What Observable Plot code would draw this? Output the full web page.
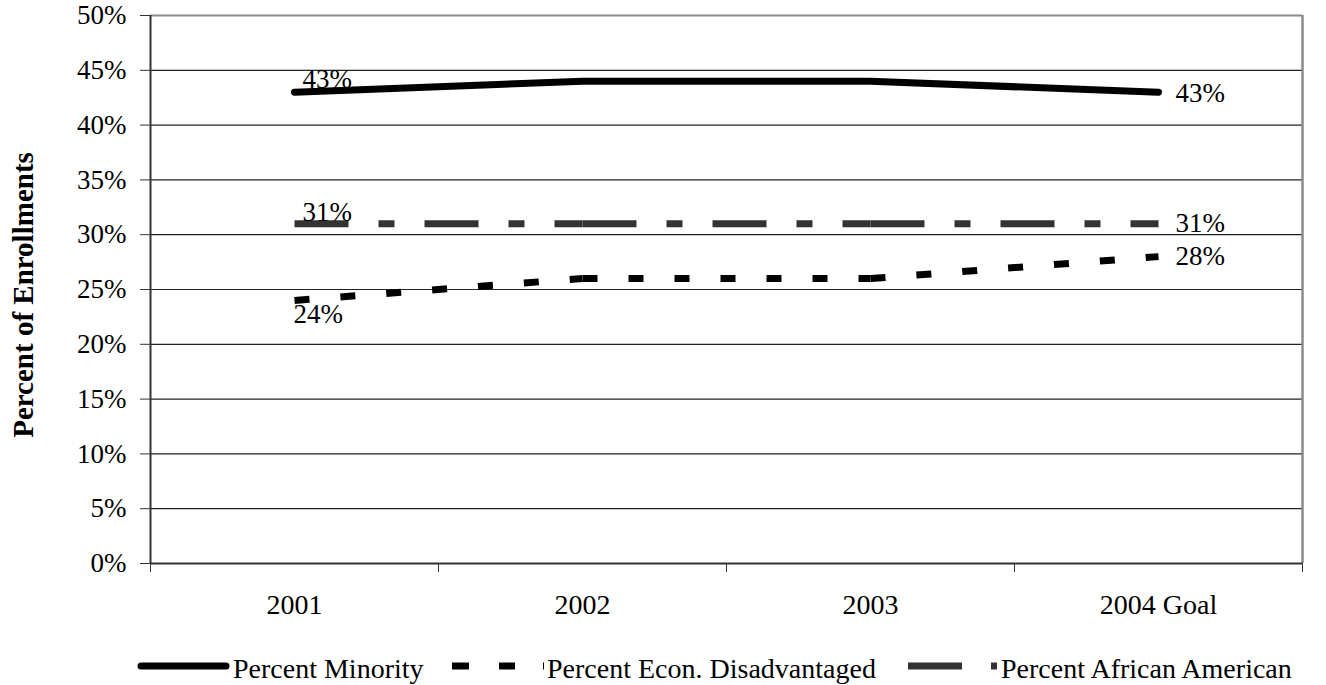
<!DOCTYPE html>
<html>
<head>
<meta charset="utf-8">
<script src="https://cdn.jsdelivr.net/npm/d3@7"></script>
<script src="https://cdn.jsdelivr.net/npm/@observablehq/plot@0.6"></script>
<style>
  html, body { margin: 0; padding: 0; background: #fff; }
  body { width: 1326px; height: 685px; position: relative; overflow: hidden; font-family: "Liberation Serif", "Times New Roman", serif; }
  #chart { position: absolute; left: 0; top: 0; }
  svg, svg text { font-family: "Liberation Serif", "Times New Roman", serif !important; }
  #ytitle { position: absolute; left: 23px; top: 295px; transform: translate(-50%, -50%) rotate(-90deg); font-weight: bold; font-size: 29px; white-space: nowrap; color: #000; }
  #legend { position: absolute; left: 0; top: 648px; width: 1326px; height: 37px; }
</style>
</head>
<body>
<div id="chart"></div>
<div id="ytitle">Percent of Enrollments</div>
<svg id="legend" width="1326" height="37"></svg>
<script>
const categories = ["2001", "2002", "2003", "2004 Goal"];
const minority = [43, 44, 44, 43];
const econ = [24, 26, 26, 28];
const african = [31, 31, 31, 31];
const yTicks = [0, 5, 10, 15, 20, 25, 30, 35, 40, 45, 50];
const seriesNames = ["Percent Minority", "Percent Econ. Disadvantaged", "Percent African American"];

const pts = (arr) => arr.map((v, i) => ({i, v: v / 100, label: v + "%"}));
const segs = (arr) => arr.slice(0, -1).map((v, i) => ({x1: i, x2: i + 1, y1: v / 100, y2: arr[i + 1] / 100}));

const minPts = pts(minority), econPts = pts(econ), afrPts = pts(african);
const last = categories.length - 1;

const chart = Plot.plot({
  width: 1326,
  height: 640,
  marginLeft: 150,
  marginRight: 24,
  marginTop: 15,
  marginBottom: 77,
  style: {fontFamily: "'Liberation Serif', serif", fontSize: "27px", color: "#000", background: "transparent"},
  x: {type: "linear", domain: [-0.5, categories.length - 0.5]},
  y: {type: "linear", domain: [0, 0.5]},
  marks: [
    Plot.gridY(yTicks.slice(1, -1).map(d => d / 100), {stroke: "#222", strokeOpacity: 1, strokeWidth: 1.2}),
    Plot.ruleY([0.5], {stroke: "#8a8a8a", strokeWidth: 2}),
    Plot.ruleX([categories.length - 0.5], {stroke: "#8a8a8a", strokeWidth: 2.5}),
    Plot.ruleX([-0.5], {stroke: "#333", strokeWidth: 2}),
    Plot.ruleY([0], {stroke: "#333", strokeWidth: 2}),
    Plot.axisY({ticks: yTicks.map(d => d / 100), tickFormat: d => Math.round(d * 100) + "%", tickSize: 10, tickPadding: 14, label: null, fontSize: 27, stroke: "#333"}),
    Plot.axisX({ticks: d3.range(categories.length + 1).map(d => d - 0.5), tickFormat: () => "", tickSize: 9, label: null, stroke: "#333"}),
    Plot.axisX({ticks: d3.range(categories.length), tickFormat: i => categories[i], tickSize: 0, tickPadding: 31, label: null, fontSize: 28}),
    // African American: long-short dash, restarting on each segment
    Plot.link(segs(african), {x1: "x1", x2: "x2", y1: "y1", y2: "y2", stroke: "#333", strokeWidth: 7, strokeDasharray: "54,30,16,30", strokeLinecap: "butt"}),
    // Econ. Disadvantaged: short dashes, restarting on each segment
    Plot.link(segs(econ), {x1: "x1", x2: "x2", y1: "y1", y2: "y2", stroke: "#000", strokeWidth: 7, strokeDasharray: "15,31", strokeLinecap: "butt"}),
    // Minority: solid
    Plot.line(minPts, {x: "i", y: "v", stroke: "#000", strokeWidth: 7, strokeLinecap: "round", strokeLinejoin: "round"}),
    // Data labels
    Plot.text([minPts[0]], {x: "i", y: "v", text: "label", textAnchor: "start", dx: 8, dy: -13, fontSize: 27, fill: "#000"}),
    Plot.text([minPts[last]], {x: "i", y: "v", text: "label", textAnchor: "start", dx: 17, dy: 1, fontSize: 27, fill: "#000"}),
    Plot.text([afrPts[0]], {x: "i", y: "v", text: "label", textAnchor: "start", dx: 8, dy: -11, fontSize: 27, fill: "#000"}),
    Plot.text([afrPts[last]], {x: "i", y: "v", text: "label", textAnchor: "start", dx: 17, dy: 0, fontSize: 27, fill: "#000"}),
    Plot.text([econPts[0]], {x: "i", y: "v", text: "label", textAnchor: "start", dx: -1, dy: 14, fontSize: 27, fill: "#000"}),
    Plot.text([econPts[last]], {x: "i", y: "v", text: "label", textAnchor: "start", dx: 17, dy: 0, fontSize: 27, fill: "#000"})
  ]
});
document.getElementById("chart").appendChild(chart);

// Legend
const leg = d3.select("#legend");
const ly = 18, base = 30, fs = 28;
leg.append("line").attr("x1", 141).attr("x2", 226).attr("y1", ly).attr("y2", ly)
  .attr("stroke", "#000").attr("stroke-width", 7).attr("stroke-linecap", "round");
leg.append("text").attr("x", 233).attr("y", base).attr("font-size", fs).attr("fill", "#000").text(seriesNames[0]);
leg.append("line").attr("x1", 452).attr("x2", 546).attr("y1", ly).attr("y2", ly)
  .attr("stroke", "#000").attr("stroke-width", 7).attr("stroke-dasharray", "17,30,16,28,1,99");
leg.append("text").attr("x", 547).attr("y", base).attr("font-size", fs).attr("fill", "#000").text(seriesNames[1]);
leg.append("line").attr("x1", 908).attr("x2", 997).attr("y1", ly).attr("y2", ly)
  .attr("stroke", "#333").attr("stroke-width", 7).attr("stroke-dasharray", "54,29,6,99");
leg.append("text").attr("x", 1001).attr("y", base).attr("font-size", fs).attr("fill", "#000").text(seriesNames[2]);
</script>
</body>
</html>
